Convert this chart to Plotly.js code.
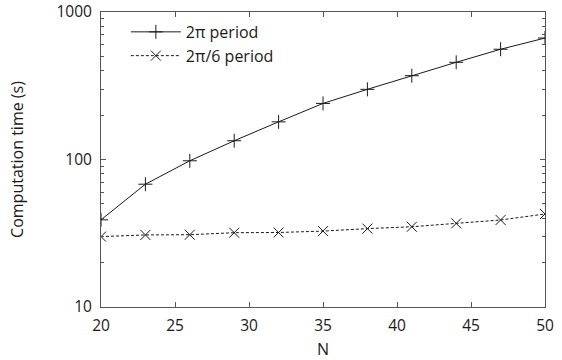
<!DOCTYPE html>
<html>
<head>
<meta charset="utf-8">
<script src="https://cdn.plot.ly/plotly-3.0.1.min.js"></script>
<style>
  html, body { margin: 0; padding: 0; background: #fff; }
  #chart { width: 562px; height: 360px; }
</style>
</head>
<body>
<div id="chart"></div>
<script>
// Problem size N
const nValues = [20, 23, 26, 29, 32, 35, 38, 41, 44, 47, 50];
// Computation time (s) for a full 2π period
const timeFullPeriod = [39, 68, 98, 134, 180, 240, 299, 370, 456, 559, 666];
// Computation time (s) for a 2π/6 period
const timeSixthPeriod = [30, 30.8, 30.9, 31.9, 32, 32.7, 34, 35, 36.9, 38.9, 42.7];

const xTicks = [20, 25, 30, 35, 40, 45, 50];
const yTicks = [10, 100, 1000];
const yTickText = ['10', '100', '1000'];
const yMinorTicks = [20, 30, 40, 50, 60, 70, 80, 90, 200, 300, 400, 500, 600, 700, 800, 900];

const fontFamily = '"Open Sans", "Noto Sans", sans-serif';
const ink = '#1a1a1a';
const frame = '#555';

const traces = [
  {
    x: nValues,
    y: timeFullPeriod,
    name: '2π period',
    mode: 'lines+markers',
    line: { color: ink, width: 1 },
    marker: { symbol: 'cross-thin', size: 10, line: { color: ink, width: 1 } }
  },
  {
    x: nValues,
    y: timeSixthPeriod,
    name: '2π/6 period',
    mode: 'lines+markers',
    line: { color: ink, width: 1, dash: '3px,2px' },
    marker: { symbol: 'x-thin', size: 10, line: { color: ink, width: 1 } }
  }
];

const layout = {
  width: 562,
  height: 360,
  margin: { l: 101, r: 17, t: 12, b: 53 },
  paper_bgcolor: '#fff',
  plot_bgcolor: '#fff',
  font: { family: fontFamily, size: 15.5, color: ink },
  showlegend: true,
  legend: {
    x: 0.056, y: 0.99, xanchor: 'left', yanchor: 'top',
    bgcolor: 'rgba(0,0,0,0)',
    itemwidth: 50,
    font: { family: fontFamily, size: 16, color: ink },
    tracegroupgap: 0
  },
  xaxis: {
    range: [20, 50],
    tickvals: xTicks,
    ticks: 'inside',
    ticklen: 5,
    tickcolor: frame,
    showline: true,
    linecolor: frame,
    linewidth: 1,
    mirror: 'ticks',
    showgrid: false,
    zeroline: false,
    ticklabelstandoff: 4,
    tickfont: { family: fontFamily, size: 15.5, color: ink },
    title: { text: 'N', standoff: 11, font: { family: fontFamily, size: 16, color: ink } }
  },
  yaxis: {
    type: 'log',
    range: [1, 3],
    tickvals: yTicks,
    ticktext: yTickText,
    ticks: 'inside',
    ticklen: 5,
    tickcolor: frame,
    showline: true,
    linecolor: frame,
    linewidth: 1,
    mirror: 'ticks',
    showgrid: false,
    zeroline: false,
    ticklabelstandoff: 5,
    minor: { tickvals: yMinorTicks, ticks: 'inside', ticklen: 3, tickcolor: frame, showgrid: false },
    tickfont: { family: fontFamily, size: 15.5, color: ink },
    title: { text: 'Computation time (s)', standoff: 28, font: { family: fontFamily, size: 16, color: ink } }
  }
};

Plotly.newPlot('chart', traces, layout, { staticPlot: true, displayModeBar: false });
</script>
</body>
</html>
